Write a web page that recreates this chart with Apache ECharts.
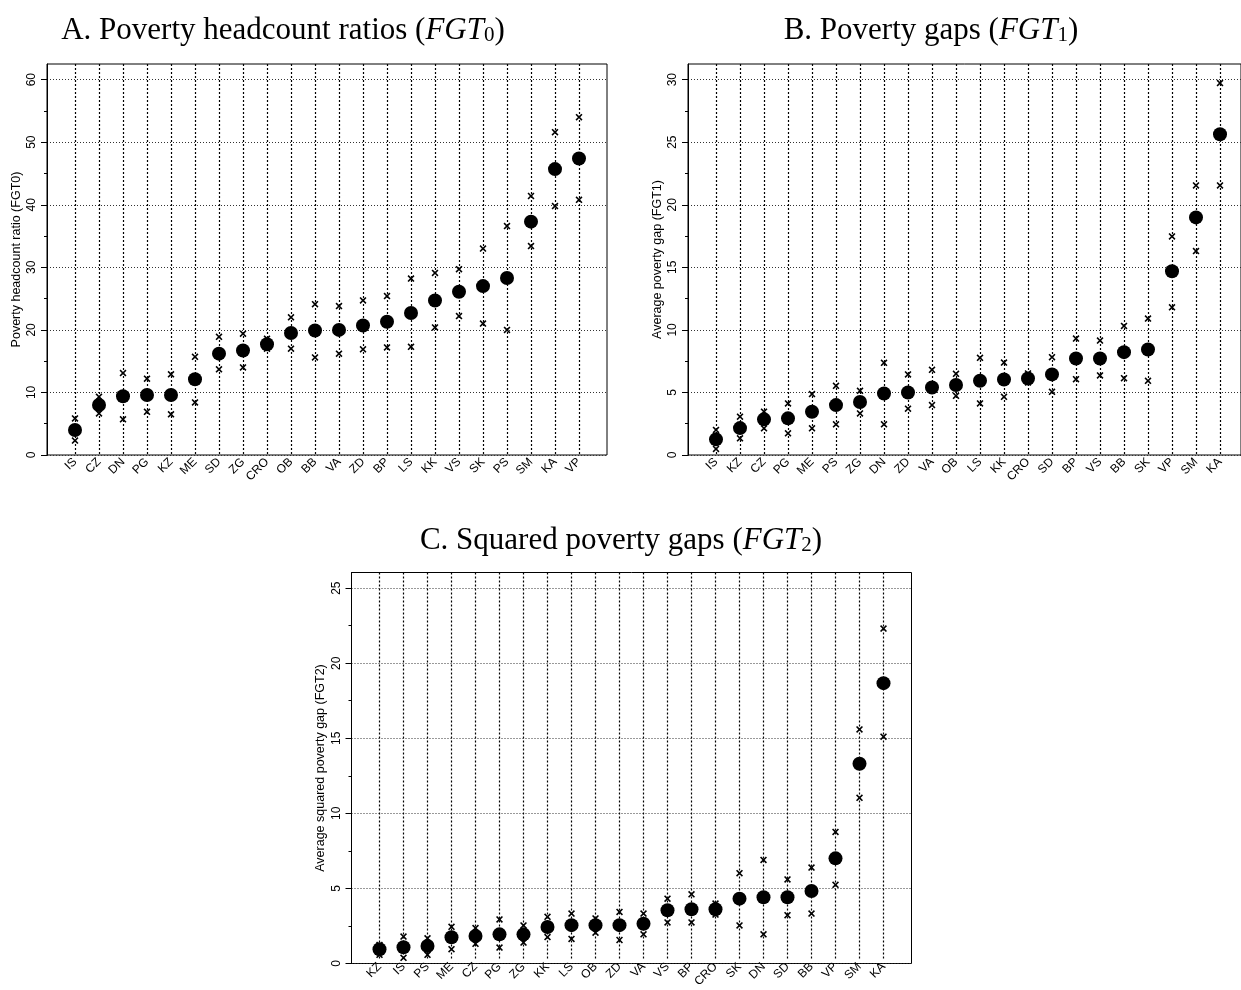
<!DOCTYPE html>
<html><head><meta charset="utf-8">
<script src="https://cdn.jsdelivr.net/npm/echarts@6/dist/echarts.min.js"></script>
<style>html,body{margin:0;padding:0;background:#fff}#c{width:1241px;height:990px}</style>
</head><body><div id="c"></div>
<script>
// Panel A: poverty headcount ratios (FGT0)
const catsA = ['IS','CZ','DN','PG','KZ','ME','SD','ZG','CRO','OB','BB','VA','ZD','BP','LS','KK','VS','SK','PS','SM','KA','VP'];
const estA  = [4.0,8.0,9.4,9.6,9.6,12.1,16.2,16.7,17.7,19.5,19.9,20.0,20.7,21.3,22.7,24.7,26.1,27.0,28.3,37.3,45.7,47.4];
const upA   = [5.85,9.3,13.1,12.2,12.9,15.7,18.9,19.4,18.6,22.0,24.1,23.8,24.7,25.4,28.2,29.1,29.7,33.0,36.6,41.4,51.6,54.0];
const loA   = [2.3,6.65,5.7,6.9,6.5,8.4,13.7,14.0,17.0,17.0,15.6,16.2,16.9,17.2,17.3,20.4,22.2,21.0,20.0,33.4,39.8,40.8];
const ticksA = [0,10,20,30,40,50,60];
const minorA = [5,15,25,35,45,55];

// Panel B: poverty gaps (FGT1)
const catsB = ['IS','KZ','CZ','PG','ME','PS','ZG','DN','ZD','VA','OB','LS','KK','CRO','SD','BP','VS','BB','SK','VP','SM','KA'];
const estB  = [1.25,2.15,2.85,2.93,3.46,3.99,4.23,4.92,5.0,5.4,5.6,5.93,6.04,6.12,6.44,7.71,7.71,8.22,8.43,14.68,18.99,25.64];
const upB   = [2.0,3.06,3.46,4.12,4.87,5.53,5.13,7.37,6.44,6.81,6.49,7.77,7.39,6.52,7.82,9.31,9.15,10.32,10.9,17.47,21.54,29.73];
const loB   = [0.48,1.33,2.13,1.73,2.13,2.45,3.32,2.45,3.70,3.99,4.73,4.12,4.65,5.8,5.05,6.06,6.36,6.14,5.93,11.8,16.3,21.54];
const ticksB = [0,5,10,15,20,25,30];
const minorB = [2.5,7.5,12.5,17.5,22.5,27.5];

// Panel C: squared poverty gaps (FGT2)
const catsC = ['KZ','IS','PS','ME','CZ','PG','ZG','KK','LS','OB','ZD','VA','VS','BP','CRO','SK','DN','SD','BB','VP','SM','KA'];
const estC  = [0.71,0.84,0.93,1.51,1.6,1.71,1.71,2.2,2.33,2.33,2.33,2.42,3.33,3.4,3.4,4.11,4.2,4.2,4.62,6.82,13.18,18.6];
const upC   = [1.0,1.56,1.44,2.22,2.13,2.71,2.31,2.89,3.11,2.78,3.22,3.11,4.11,4.4,3.78,5.82,6.71,5.4,6.2,8.6,15.49,22.27];
const loC   = [0.33,0.13,0.33,0.71,1.07,0.82,1.16,1.53,1.4,1.82,1.33,1.71,2.51,2.51,3.04,2.31,1.71,3.0,3.11,5.04,10.89,15.0];
const ticksC = [0,5,10,15,20,25];
const minorC = [2.5,7.5,12.5,17.5,22.5];

const CROSS = 'path://M0,1.6L1.6,0L5,3.4L8.4,0L10,1.6L6.6,5L10,8.4L8.4,10L5,6.6L1.6,10L0,8.4L3.4,5Z';
const SANS = 'Liberation Sans';
const SERIF = 'Liberation Serif';

const grid = [], xAxis = [], yAxis = [], series = [];

function addPanel(p) {
  const gF = grid.length;
  grid.push({left: p.left, top: p.top, width: 560, height: 391, show: true,
             borderColor: '#000', borderWidth: 1, backgroundColor: 'transparent'});
  const gD = grid.length;
  grid.push({left: p.left + 28, top: p.top, width: 504, height: 391});
  xAxis.push({gridIndex: gF, type: 'value', min: 0, max: 1, show: false});
  const xD = xAxis.length;
  xAxis.push({gridIndex: gD, type: 'category', data: p.cats, boundaryGap: false,
    axisLine: {show: false}, axisTick: {show: false},
    axisLabel: {interval: 0, rotate: 45, fontSize: 12, margin: 5, color: '#000', fontFamily: SANS},
    splitLine: {show: true, interval: 0, lineStyle: {color: '#000', type: [2, 2], width: 1.2}}});
  yAxis.push({gridIndex: gF, type: 'value', position: 'left', min: 0, max: p.max, interval: p.interval,
    name: p.name, nameLocation: 'middle', nameGap: 24,
    nameTextStyle: {fontSize: 12.5, color: '#000', fontFamily: SANS},
    axisLine: {show: true, lineStyle: {color: '#000', width: 1}},
    axisTick: {show: true, length: 6, customValues: p.ticks, lineStyle: {color: '#000'}},
    axisLabel: {customValues: p.ticks, rotate: 90, margin: 9, fontSize: 12, color: '#000', fontFamily: SANS},
    splitLine: {show: true, lineStyle: {color: '#333', type: [1, 2], width: 1}}});
  yAxis.push({gridIndex: gF, type: 'value', position: 'left', offset: 0, min: 0, max: p.max,
    axisLine: {show: false},
    axisTick: {show: true, length: 3, customValues: p.minor, lineStyle: {color: '#000'}},
    axisLabel: {show: false}, splitLine: {show: false}});
  const yD = yAxis.length;
  yAxis.push({gridIndex: gD, type: 'value', min: 0, max: p.max, show: false});
  const common = {type: 'scatter', xAxisIndex: xD, yAxisIndex: yD, silent: true, animation: false};
  series.push(Object.assign({}, common, {name: 'upper', data: p.up, symbol: CROSS, symbolSize: 7, itemStyle: {color: '#000', opacity: 1}, z: 2}));
  series.push(Object.assign({}, common, {name: 'lower', data: p.lo, symbol: CROSS, symbolSize: 7, itemStyle: {color: '#000', opacity: 1}, z: 2}));
  series.push(Object.assign({}, common, {name: 'estimate', data: p.est, symbol: 'circle', symbolSize: 14, itemStyle: {color: '#000', opacity: 1}, z: 3}));
}

addPanel({left: 47, top: 64, max: 62.5, interval: 10, ticks: ticksA, minor: minorA, cats: catsA, est: estA, up: upA, lo: loA, name: 'Poverty headcount ratio (FGT0)'});
addPanel({left: 688, top: 64, max: 31.25, interval: 5, ticks: ticksB, minor: minorB, cats: catsB, est: estB, up: upB, lo: loB, name: 'Average poverty gap (FGT1)'});
addPanel({left: 351.5, top: 572.5, max: 26.0417, interval: 5, ticks: ticksC, minor: minorC, cats: catsC, est: estC, up: upC, lo: loC, name: 'Average squared poverty gap (FGT2)'});

const rich = {
  n: {fontFamily: SERIF, fontSize: 31, fontWeight: 'normal', color: '#000'},
  i: {fontFamily: SERIF, fontSize: 31, fontWeight: 'normal', fontStyle: 'italic', color: '#000'},
  s: {fontFamily: SERIF, fontSize: 21, fontWeight: 'normal', color: '#000', verticalAlign: 'bottom'}
};
function mkTitle(pre, sub, cx, top) {
  return {text: '{n|' + pre + ' (}{i|FGT}{s|' + sub + '}{n|)}', left: cx, top: top, textAlign: 'center', padding: 0,
          textStyle: {fontWeight: 'normal', rich: rich}};
}

const chart = echarts.init(document.getElementById('c'), null, {renderer: 'canvas'});
chart.setOption({
  animation: false,
  backgroundColor: '#fff',
  title: [
    mkTitle('A. Poverty headcount ratios', '0', 283, 15),
    mkTitle('B. Poverty gaps', '1', 931, 15),
    mkTitle('C. Squared poverty gaps', '2', 621, 525)
  ],
  grid: grid, xAxis: xAxis, yAxis: yAxis, series: series
});
</script></body></html>
